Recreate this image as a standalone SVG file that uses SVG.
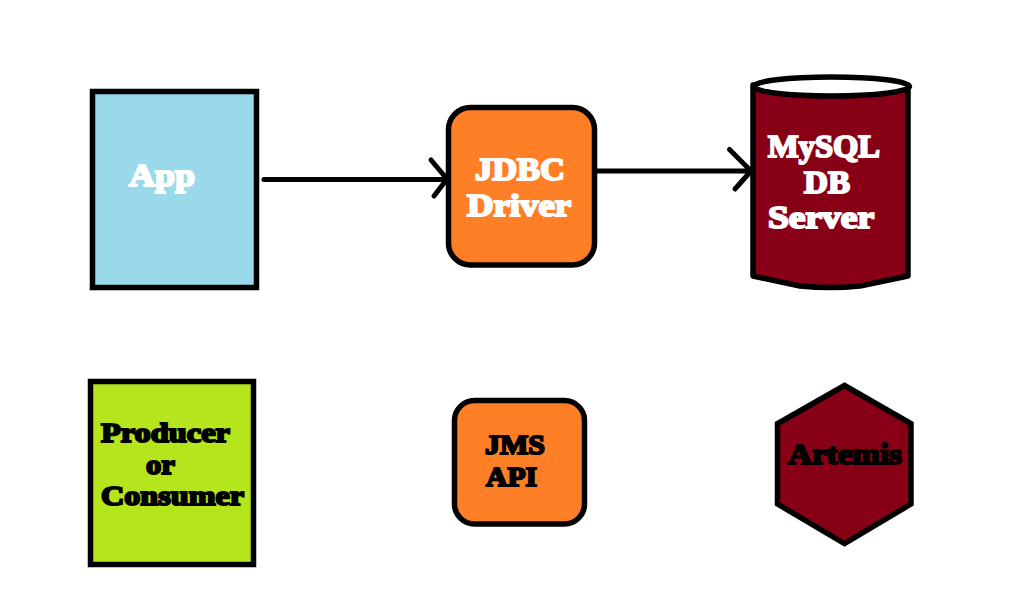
<svg xmlns="http://www.w3.org/2000/svg" width="1010" height="608" viewBox="0 0 1010 608">
<style>
.s{stroke:#000;stroke-width:5.500;stroke-linejoin:miter}
.r{stroke-linejoin:round}
text{font-family:"Liberation Serif","DejaVu Serif",serif;font-weight:700;stroke-width:2;paint-order:stroke}
.w{fill:#fff;stroke:#fff}
.k{fill:#000;stroke:#000}
.c{fill:none;stroke:#000;stroke-width:5;stroke-linecap:round;stroke-linejoin:round}
</style>
<rect width="1010" height="608" fill="#fff"/>
<g id="connectors">
<path class="c" d="M264 179.500H445M431 160L447 179L434 196"/>
<path class="c" d="M596 171H750M729.500 149.500L751 171L735 189"/>
</g>
<g id="app">
<rect class="s" x="92.500" y="91.500" width="164" height="196" fill="#99d9ea"/>
<text class="w" x="129" y="186" font-size="32" textLength="66" lengthAdjust="spacingAndGlyphs">App</text>
</g>
<g id="jdbc">
<rect class="s" x="448.500" y="107.500" width="146" height="157.500" rx="22" fill="#ff7f27"/>
<text class="w" x="475" y="180" font-size="31" textLength="90" lengthAdjust="spacingAndGlyphs">JDBC</text>
<text class="w" x="467" y="215.500" font-size="31" textLength="104" lengthAdjust="spacingAndGlyphs">Driver</text>
</g>
<g id="mysql">
<path class="s r" d="M753 85V276L800 286Q830 289 860 286L908 276V85Z" fill="#880015"/>
<ellipse class="s" cx="831.500" cy="86.500" rx="78" ry="9.500" fill="#fff"/>
<text class="w" x="768" y="157" font-size="32" textLength="112" lengthAdjust="spacingAndGlyphs">MySQL</text>
<text class="w" x="804" y="193" font-size="32" textLength="46" lengthAdjust="spacingAndGlyphs">DB</text>
<text class="w" x="768" y="228" font-size="31" textLength="106" lengthAdjust="spacingAndGlyphs">Server</text>
</g>
<g id="producer">
<rect class="s" x="90.500" y="381.500" width="163" height="183" fill="#b5e61d"/>
<text class="k" x="101" y="442" font-size="28" textLength="129" lengthAdjust="spacingAndGlyphs">Producer</text>
<text class="k" x="146" y="474" font-size="28" textLength="29" lengthAdjust="spacingAndGlyphs">or</text>
<text class="k" x="101" y="505" font-size="28" textLength="143" lengthAdjust="spacingAndGlyphs">Consumer</text>
</g>
<g id="jms">
<rect class="s" x="454.500" y="400.500" width="130" height="123.500" rx="20" fill="#ff7f27"/>
<text class="k" x="485" y="453.500" font-size="28" textLength="60" lengthAdjust="spacingAndGlyphs">JMS</text>
<text class="k" x="486" y="486" font-size="28" textLength="51" lengthAdjust="spacingAndGlyphs">API</text>
</g>
<g id="artemis">
<polygon class="s" points="844.500,385.500 911,423.500 911,504 844.500,543.500 777.500,504 777.500,423.500" fill="#880015"/>
<text class="k" x="788" y="464" font-size="29" textLength="114" lengthAdjust="spacingAndGlyphs">Artemis</text>
</g>
</svg>
